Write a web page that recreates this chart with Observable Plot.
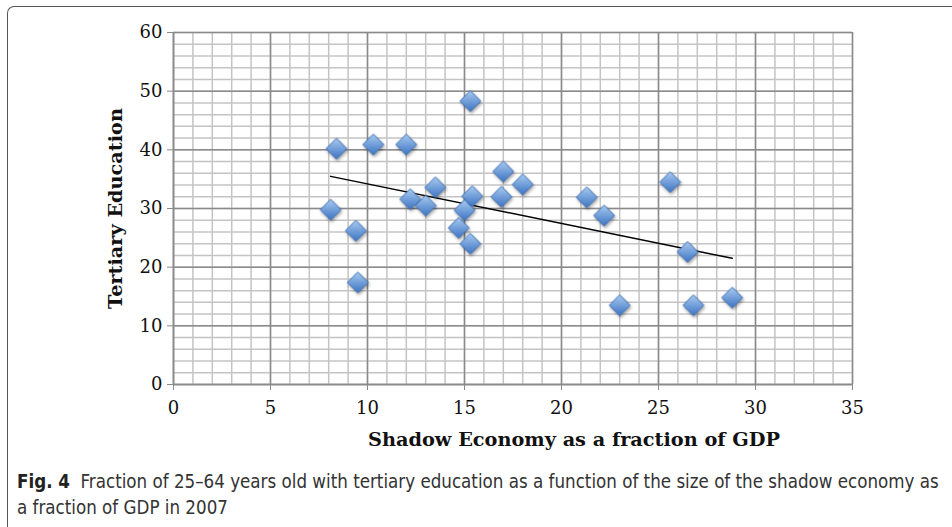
<!DOCTYPE html>
<html>
<head>
<meta charset="utf-8">
<script src="https://cdn.jsdelivr.net/npm/d3@7"></script>
<script src="https://cdn.jsdelivr.net/npm/@observablehq/plot@0.6"></script>
<style>
  html, body { margin: 0; padding: 0; background: #fff; width: 952px; height: 527px; overflow: hidden; }
  #frame { position: absolute; left: 7px; top: 6px; width: 1000px; height: 600px;
           border-left: 1.5px solid #555; border-top: 1.5px solid #555; border-top-left-radius: 7px; box-sizing: border-box; }
  #chart { position: absolute; left: 0; top: 0; }
  #caption { position: absolute; left: 17px; top: 469px; width: 940px;
             font-family: "DejaVu Sans Condensed", "Liberation Sans", sans-serif;
             font-size: 18.6px; line-height: 26px; color: #333; white-space: nowrap; }
  #caption b { font-weight: 700; color: #222; }
</style>
</head>
<body>
<div id="frame"></div>
<div id="chart"></div>
<div id="caption"><b>Fig. 4</b>&nbsp; Fraction of 25–64 years old with tertiary education as a function of the size of the shadow economy as<br>a fraction of GDP in 2007</div>
<script>
// Shadow economy (% of GDP) and tertiary education (% of 25–64 year olds), 2007
const shadowEconomy = [8.1, 8.4, 9.4, 9.5, 10.3, 12.0, 12.2, 13.0, 13.5, 14.7, 15.0, 15.3, 15.4, 15.3, 16.9, 17.0, 18.0, 21.3, 22.2, 23.0, 25.6, 26.5, 26.8, 28.8];
const tertiaryEducation = [29.8, 40.2, 26.2, 17.4, 40.9, 40.9, 31.6, 30.5, 33.6, 26.7, 29.7, 48.3, 32.1, 24.0, 32.0, 36.3, 34.1, 31.9, 28.8, 13.5, 34.5, 22.6, 13.5, 14.8];
const xTicks = [0, 5, 10, 15, 20, 25, 30, 35];
const yTicks = [0, 10, 20, 30, 40, 50, 60];
const xMinor = d3.range(0, 36, 1);
const yMinor = d3.range(0, 61, 2);
const xLabel = "Shadow Economy as a fraction of GDP";
const yLabel = "Tertiary Education";

const data = shadowEconomy.map((x, i) => ({x, y: tertiaryEducation[i]}));

const serif = "'DejaVu Serif', 'Liberation Serif', serif";

const chart = Plot.plot({
  width: 952,
  height: 460,
  marginLeft: 173,
  marginRight: 100,
  marginTop: 32,
  marginBottom: 76,
  style: {fontFamily: serif, fontSize: "17px", color: "#111", background: "transparent", overflow: "visible"},
  x: {domain: [0, 35]},
  y: {domain: [0, 60]},
  marks: [
    Plot.gridX(xMinor, {stroke: "#c4c4c4", strokeOpacity: 1, strokeWidth: 1.5}),
    Plot.gridY(yMinor, {stroke: "#c4c4c4", strokeOpacity: 1, strokeWidth: 1.5}),
    Plot.gridX(xTicks, {stroke: "#8a8a8a", strokeOpacity: 1, strokeWidth: 1.5}),
    Plot.gridY(yTicks, {stroke: "#8a8a8a", strokeOpacity: 1, strokeWidth: 1.5}),
    Plot.ruleX([0], {stroke: "#8a8a8a", strokeWidth: 1.5}),
    Plot.ruleY([0], {stroke: "#8a8a8a", strokeWidth: 1.5}),
    Plot.axisX(xTicks, {tickSize: 6, tickPadding: 11, stroke: "#8a8a8a", label: null, fontSize: 18, fill: "#111"}),
    Plot.axisY(yTicks, {tickSize: 6, tickPadding: 5, stroke: "#8a8a8a", label: null, fontSize: 18, fill: "#111"}),
    Plot.text([xLabel], {frameAnchor: "bottom", dx: 61, dy: 61, fontWeight: "bold", fontSize: 19.3, fill: "#111"}),
    Plot.text([yLabel], {frameAnchor: "left", textAnchor: "middle", dx: -58, rotate: -90, fontWeight: "bold", fontSize: 19.3, fill: "#111"}),
    Plot.linearRegressionY(data, {x: "x", y: "y", ci: 0, stroke: "#000", strokeWidth: 1.5}),
    Plot.dot(data, {x: "x", y: "y", symbol: "diamond2", r: 9.4, fill: "url(#diamondGrad)", stroke: "#3b6fb6", strokeWidth: 1})
  ]
});

const svg = d3.select(chart);
const defs = svg.insert("defs", ":first-child");
const g = defs.append("linearGradient").attr("id", "diamondGrad").attr("x1", 0).attr("y1", 0).attr("x2", 0).attr("y2", 1);
g.append("stop").attr("offset", "0%").attr("stop-color", "#a9cbf0");
g.append("stop").attr("offset", "100%").attr("stop-color", "#3d74c4");
svg.selectAll("g[aria-label=dot]").style("filter", "drop-shadow(1px 2px 1.5px rgba(0,0,0,0.35))");

document.getElementById("chart").appendChild(chart);
</script>
</body>
</html>
